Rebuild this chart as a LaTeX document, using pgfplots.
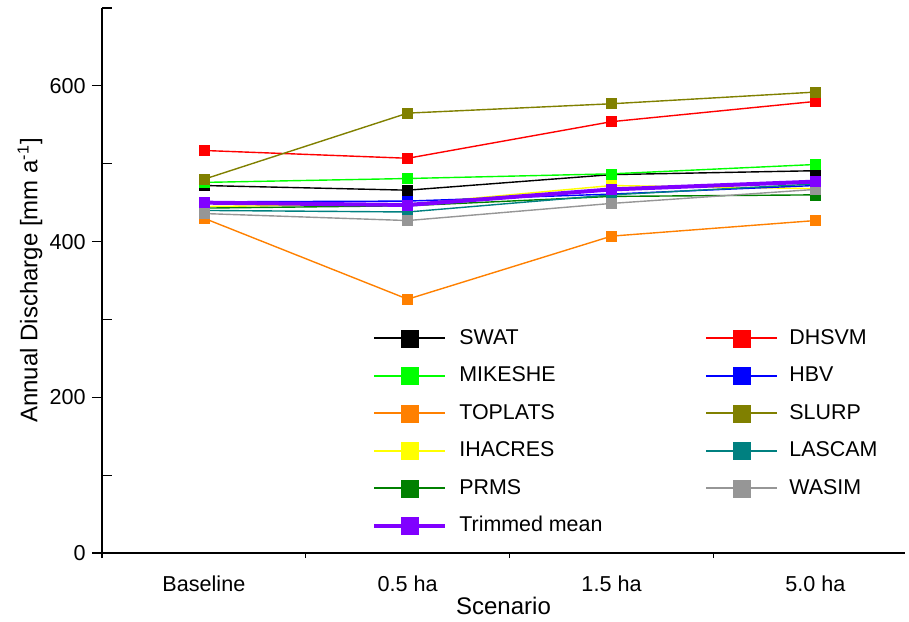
\documentclass[border=0pt]{standalone}
\usepackage{fontspec}
\setmainfont{Liberation Sans}
\usepackage{pgfplots}
\pgfplotsset{compat=1.18}

\definecolor{cSWAT}{HTML}{000000}
\definecolor{cMIKE}{HTML}{00FF00}
\definecolor{cTOP}{HTML}{FF8000}
\definecolor{cIHA}{HTML}{FFFF00}
\definecolor{cPRMS}{HTML}{008000}
\definecolor{cDHS}{HTML}{FF0000}
\definecolor{cHBV}{HTML}{0000FF}
\definecolor{cSLURP}{HTML}{808000}
\definecolor{cLAS}{HTML}{008080}
\definecolor{cWAS}{HTML}{969696}
\definecolor{cMEAN}{HTML}{8000FF}

\pgfplotsset{
  frame/.style={at={(0pt,0pt)}, anchor=south west,
    scale only axis, width=401.5pt, height=272.5pt,
    xmin=-0.5, xmax=3.44, ymin=0, ymax=700,
    axis lines=left, tick style={black, line width=0.6pt}},
  model/.style={color=#1, line width=0.7pt, mark=square*, mark size=2.5pt,
    mark options={fill=#1, draw=#1, line width=0.3pt, solid}},
  legimg/.style={color=#1, line width=1pt, mark=square*, mark size=4.2pt,
    mark options={fill=#1, draw=#1, line width=0.3pt, solid}},
}

\begin{document}
\begin{tikzpicture}
\useasboundingbox (-51pt,-34pt) rectangle (403.5pt,276.5pt);
% minor y ticks, inside
\begin{axis}[frame, axis line style={draw=none},
  tick align=inside, major tick length=5pt,
  xtick=\empty, ytick={100,300,500,700}, yticklabels={}]
\end{axis}
% ticks between the categories, outside
\begin{axis}[frame, axis line style={draw=none},
  tick align=outside, major tick length=2.5pt,
  ytick=\empty, xtick={-0.5,0.5,1.5,2.5}, xticklabels={}]
\end{axis}
\begin{axis}[
  frame,
  axis line style={-, line width=0.7pt},
  tick align=outside, major tick length=5pt,
  xtick={0,1,2,3}, xticklabels={Baseline,0.5 ha,1.5 ha,5.0 ha},
  xtick style={draw=none},
  ytick={0,200,400,600},
  /pgf/number format/assume math mode=true,
  tick label style={font=\fontsize{10.8}{13}\selectfont},
  xticklabel style={inner sep=0pt, anchor=north, yshift=-6pt},
  yticklabel style={inner sep=0pt, anchor=east, xshift=-3pt},
  label style={font=\fontsize{12}{14}\selectfont},
  xlabel={Scenario},
  xlabel style={at={(axis description cs:0.5,0)}, anchor=center, yshift=-26.5pt},
  ylabel={Annual Discharge [mm a\textsuperscript{-1}]},
  ylabel style={at={(axis description cs:0,0.5)}, anchor=center, yshift=36pt},
  legend columns=2,
  legend cell align=left,
  legend image code/.code={\draw[mark repeat=2,mark phase=2,#1] plot coordinates {(0pt,0pt) (17.75pt,0pt) (35.5pt,0pt)};},
  legend style={draw=none, fill=none, inner sep=0pt,
    at={(0.3362,0.4128)}, anchor=north west,
    font=\fontsize{10.7}{13}\selectfont,
    nodes={inner xsep=0pt, inner ysep=0pt, text height=8pt, text depth=2pt},
    row sep=8.75pt,
    /tikz/column 1/.style={column sep=6pt},
    /tikz/column 2/.style={column sep=51.5pt},
    /tikz/column 3/.style={column sep=5.5pt}},
]
% Baseline, 0.5 ha, 1.5 ha, 5.0 ha
\addplot[model=cSWAT, forget plot] coordinates {(0,472) (1,466) (2,486) (3,491)};
\addplot[model=cMIKE, forget plot] coordinates {(0,476) (1,481) (2,487) (3,499)};
\addplot[model=cTOP, forget plot] coordinates {(0,430) (1,326) (2,407) (3,427)};
\addplot[model=cIHA, forget plot] coordinates {(0,445) (1,448) (2,472) (3,468)};
\addplot[model=cPRMS, forget plot] coordinates {(0,443) (1,446) (2,458) (3,460)};
\addplot[model=cDHS, forget plot] coordinates {(0,517) (1,507) (2,554) (3,580)};
\addplot[model=cHBV, forget plot] coordinates {(0,451) (1,452) (2,461) (3,472)};
\addplot[model=cSLURP, forget plot] coordinates {(0,480) (1,565) (2,577) (3,592)};
\addplot[model=cLAS, forget plot] coordinates {(0,440) (1,438) (2,460) (3,474)};
\addplot[model=cWAS, forget plot] coordinates {(0,436) (1,427) (2,449) (3,467)};
\addplot[model=cMEAN, line width=2pt, forget plot] coordinates {(0,450) (1,447) (2,467) (3,477)};

% legend, filled row by row
\addlegendimage{legimg=cSWAT}\addlegendentry{SWAT}
\addlegendimage{legimg=cDHS}\addlegendentry{DHSVM}
\addlegendimage{legimg=cMIKE}\addlegendentry{MIKESHE}
\addlegendimage{legimg=cHBV}\addlegendentry{HBV}
\addlegendimage{legimg=cTOP}\addlegendentry{TOPLATS}
\addlegendimage{legimg=cSLURP}\addlegendentry{SLURP}
\addlegendimage{legimg=cIHA}\addlegendentry{IHACRES}
\addlegendimage{legimg=cLAS}\addlegendentry{LASCAM}
\addlegendimage{legimg=cPRMS}\addlegendentry{PRMS}
\addlegendimage{legimg=cWAS}\addlegendentry{WASIM}
\addlegendimage{legimg=cMEAN, line width=2pt}\addlegendentry{Trimmed mean}
\end{axis}
\end{tikzpicture}
\end{document}
